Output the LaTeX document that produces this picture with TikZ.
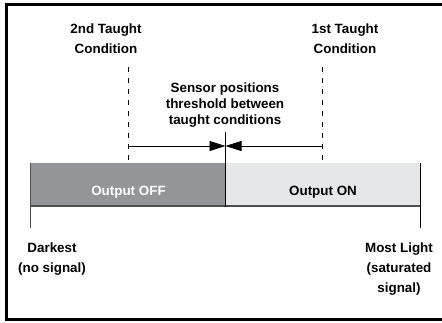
\documentclass[tikz,border=0pt]{standalone}
\usepackage{fontspec}
\setmainfont{Liberation Sans}
\usetikzlibrary{arrows.meta,positioning}
\definecolor{offgray}{HTML}{939598}
\definecolor{ongray}{HTML}{E6E7E8}
\definecolor{edgegray}{HTML}{4D4D4F}

\begin{document}
\begin{tikzpicture}[x=1pt,y=-1pt,
  lbl/.style={font=\fontsize{13.4}{20}\selectfont\bfseries, align=center, inner sep=0pt},
  midlbl/.style={font=\fontsize{13.4}{16}\selectfont\bfseries, align=center, inner sep=0pt},
  taught/.style={line width=0.8pt, dash pattern=on 5pt off 6pt},
  meets/.style={-{Triangle[length=16pt,width=10pt]}, line width=0.8pt}]
\useasboundingbox (0,0) rectangle (442,322);
\draw[line width=2.5pt] (6.5,4.5) rectangle (470,319.5);

% the two output bands
\fill[offgray] (30.7,163.3) rectangle (225.5,206.7);
\fill[ongray] (225.5,163.3) rectangle (420.7,206.7);
\draw[edgegray, line width=2pt] (30.7,206) -- (420.7,206);

\coordinate (darkend) at (30.7,163.3);
\coordinate (darktick) at (30.7,228);
\coordinate (lightend) at (420.7,163.3);
\coordinate (lighttick) at (420.7,228);
\draw[edgegray, line width=1.3pt] (darkend) -- (darktick);
\draw[line width=1.3pt] (lightend) -- (lighttick);

% taught conditions
\coordinate (sectop) at (128,67);
\coordinate (secbot) at (128,163.3);
\coordinate (fsttop) at (322.7,67);
\coordinate (fstbot) at (322.7,163.3);
\draw[taught] (sectop) -- (secbot);
\draw[taught] (fsttop) -- (fstbot);

% threshold
\coordinate (thtop) at (225.5,132);
\coordinate (thbot) at (225.5,206.7);
\draw[line width=0.9pt] (thtop) -- (thbot);

\coordinate (secmid) at (128,146);
\coordinate (thmid) at (225.5,146);
\coordinate (fstmid) at (322.7,146);
\draw[meets] (secmid) -- (thmid);
\draw[meets] (fstmid) -- (thmid);

\node[lbl] (second) at (106,39) {2nd Taught\\Condition};
\node[lbl] (first) at (345,39) {1st Taught\\Condition};
\node[midlbl] (thresh) at (225,105.5) {Sensor positions\\threshold between\\taught conditions};

\node[lbl, text=white] (off) at (128.5,192) {Output OFF};
\node[lbl] (on) at (323,192) {Output ON};

\node[lbl] (darkest) at (52,259) {Darkest\\(no signal)};
\node[lbl] (light) at (399,269) {Most Light\\(saturated\\signal)};
\end{tikzpicture}
\end{document}
